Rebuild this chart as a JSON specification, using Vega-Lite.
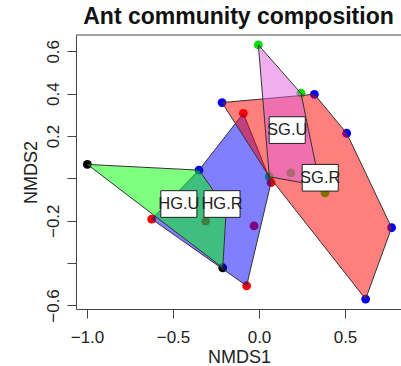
{
  "$schema": "https://vega.github.io/schema/vega-lite/v6.json",
  "width": 325,
  "height": 274,
  "autosize": "none",
  "padding": {"left": 76, "top": 35, "right": 0, "bottom": 57},
  "background": "white",
  "config": {"view": {"stroke": null}, "font": "Liberation Sans"},
  "title": {"text": "Ant community composition", "fontSize": 23, "font": "Liberation Sans", "fontWeight": "bold", "color": "#111", "anchor": "middle", "offset": 10, "baseline": "alphabetic", "dy": 22},
  "datasets": {
    "pts": [
      {"x": -0.004, "y": 0.630, "c": "green"},
      {"x": 0.244, "y": 0.402, "c": "green"},
      {"x": 0.322, "y": 0.397, "c": "blue"},
      {"x": -0.215, "y": 0.358, "c": "blue"},
      {"x": -0.091, "y": 0.307, "c": "red"},
      {"x": 0.510, "y": 0.213, "c": "blue"},
      {"x": -0.998, "y": 0.066, "c": "black"},
      {"x": -0.349, "y": 0.039, "c": "blue"},
      {"x": 0.060, "y": 0.008, "c": "green"},
      {"x": 0.070, "y": -0.020, "c": "red"},
      {"x": 0.186, "y": 0.026, "c": "green"},
      {"x": 0.384, "y": -0.068, "c": "green"},
      {"x": -0.310, "y": -0.202, "c": "red"},
      {"x": -0.029, "y": -0.224, "c": "red"},
      {"x": -0.624, "y": -0.192, "c": "red"},
      {"x": -0.211, "y": -0.422, "c": "black"},
      {"x": -0.072, "y": -0.507, "c": "red"},
      {"x": 0.620, "y": -0.570, "c": "blue"},
      {"x": 0.771, "y": -0.233, "c": "blue"},
      {"x": -0.190, "y": -0.144, "c": "black"},
      {"x": 0.355, "y": -0.036, "c": "green"}
    ],
    "hulls": [
      {"g": "HG.R", "o": 1, "x": -0.091, "y": 0.307},
      {"g": "HG.R", "o": 2, "x": 0.070, "y": -0.020},
      {"g": "HG.R", "o": 3, "x": -0.072, "y": -0.507},
      {"g": "HG.R", "o": 4, "x": -0.624, "y": -0.192},
      {"g": "HG.R", "o": 5, "x": -0.349, "y": 0.039},
      {"g": "HG.U", "o": 1, "x": -0.998, "y": 0.066},
      {"g": "HG.U", "o": 2, "x": -0.349, "y": 0.039},
      {"g": "HG.U", "o": 3, "x": -0.190, "y": -0.144},
      {"g": "HG.U", "o": 4, "x": -0.211, "y": -0.422},
      {"g": "SG.R", "o": 1, "x": -0.215, "y": 0.358},
      {"g": "SG.R", "o": 2, "x": 0.322, "y": 0.397},
      {"g": "SG.R", "o": 3, "x": 0.510, "y": 0.213},
      {"g": "SG.R", "o": 4, "x": 0.771, "y": -0.233},
      {"g": "SG.R", "o": 5, "x": 0.620, "y": -0.570},
      {"g": "SG.R", "o": 6, "x": 0.060, "y": 0.008},
      {"g": "SG.U", "o": 1, "x": -0.004, "y": 0.630},
      {"g": "SG.U", "o": 2, "x": 0.244, "y": 0.402},
      {"g": "SG.U", "o": 3, "x": 0.355, "y": -0.036},
      {"g": "SG.U", "o": 4, "x": 0.060, "y": 0.008}
    ],
    "labels": [
      {"g": "HG.U", "x": -0.466, "y": -0.121},
      {"g": "HG.R", "x": -0.215, "y": -0.121},
      {"g": "SG.U", "x": 0.164, "y": 0.228},
      {"g": "SG.R", "x": 0.356, "y": 0.003}
    ]
  },
  "layer": [
    {
      "data": {"name": "pts"},
      "mark": {"type": "point", "filled": true, "opacity": 1, "size": 78},
      "encoding": {
        "x": {"field": "x", "type": "quantitative", "scale": {"domain": [-1.064, 0.8256], "nice": false, "zero": false},
          "axis": {"values": [-1, -0.5, 0, 0.5], "format": ".1f", "grid": false, "title": "NMDS1", "titleFontSize": 18, "titleFontWeight": "normal", "titleFont": "Liberation Sans", "titleColor": "#222", "titleBaseline": "alphabetic", "titleX": 163, "titleY": 53, "labelFontSize": 17, "labelFont": "Liberation Sans", "labelColor": "#222", "labelBaseline": "alphabetic", "labelPadding": 24, "tickSize": 9, "tickColor": "#444", "domainColor": "#444", "labelFlush": false, "labelOverlap": false}},
        "y": {"field": "y", "type": "quantitative", "scale": {"domain": [-0.6167, 0.677], "nice": false, "zero": false},
          "axis": {"values": [-0.6, -0.4, -0.2, 0, 0.2, 0.4, 0.6], "labelExpr": "(abs(datum.value) < 0.01 || abs(datum.value + 0.4) < 0.01) ? '' : format(datum.value, '.1f')", "grid": false, "title": "NMDS2", "titleFontSize": 18, "titleFontWeight": "normal", "titleFont": "Liberation Sans", "titleColor": "#222", "titleAngle": -90, "titleBaseline": "alphabetic", "titleAlign": "center", "titleX": -40, "titleY": 137, "labelFontSize": 17, "labelFont": "Liberation Sans", "labelColor": "#222", "labelAngle": -90, "labelAlign": "center", "labelBaseline": "alphabetic", "labelPadding": 9, "tickSize": 9, "tickColor": "#444", "domainColor": "#444", "labelFlush": false, "labelOverlap": false}},
        "color": {"field": "c", "type": "nominal", "scale": {"domain": ["black", "red", "green", "blue"], "range": ["#000000", "#FF0000", "#00E000", "#0000FF"]}, "legend": null}
      }
    },
    {
      "data": {"name": "hulls"},
      "mark": {"type": "line", "interpolate": "linear-closed", "stroke": "#333", "strokeWidth": 1},
      "encoding": {
        "x": {"field": "x", "type": "quantitative"},
        "y": {"field": "y", "type": "quantitative"},
        "order": {"field": "o", "type": "quantitative"},
        "detail": {"field": "g", "type": "nominal"},
        "fill": {"field": "g", "type": "nominal", "scale": {"domain": ["HG.R", "HG.U", "SG.R", "SG.U"], "range": ["#0000FF", "#00FF00", "#FF0000", "#E060E0"]}, "legend": null},
        "fillOpacity": {"field": "g", "type": "nominal", "scale": {"domain": ["HG.R", "HG.U", "SG.R", "SG.U"], "range": [0.5, 0.5, 0.5, 0.42]}, "legend": null}
      }
    },
    {
      "data": {"name": "labels"},
      "mark": {"type": "point", "shape": "M-1,-0.74H1V0.74H-1Z", "size": 1300, "filled": true, "fill": "white", "stroke": "#222", "strokeWidth": 1, "opacity": 1, "strokeOpacity": 1, "fillOpacity": 1},
      "encoding": {
        "x": {"field": "x", "type": "quantitative"},
        "y": {"field": "y", "type": "quantitative"}
      }
    },
    {
      "data": {"name": "labels"},
      "mark": {"type": "text", "fontSize": 16.5, "font": "Liberation Sans", "color": "#222", "baseline": "middle", "align": "center"},
      "encoding": {
        "x": {"field": "x", "type": "quantitative"},
        "y": {"field": "y", "type": "quantitative"},
        "text": {"field": "g", "type": "nominal"}
      }
    },
    {
      "data": {"values": [{}]},
      "mark": {"type": "rule", "color": "#444", "strokeWidth": 1},
      "encoding": {"y": {"datum": 0.677}}
    }
  ]
}
